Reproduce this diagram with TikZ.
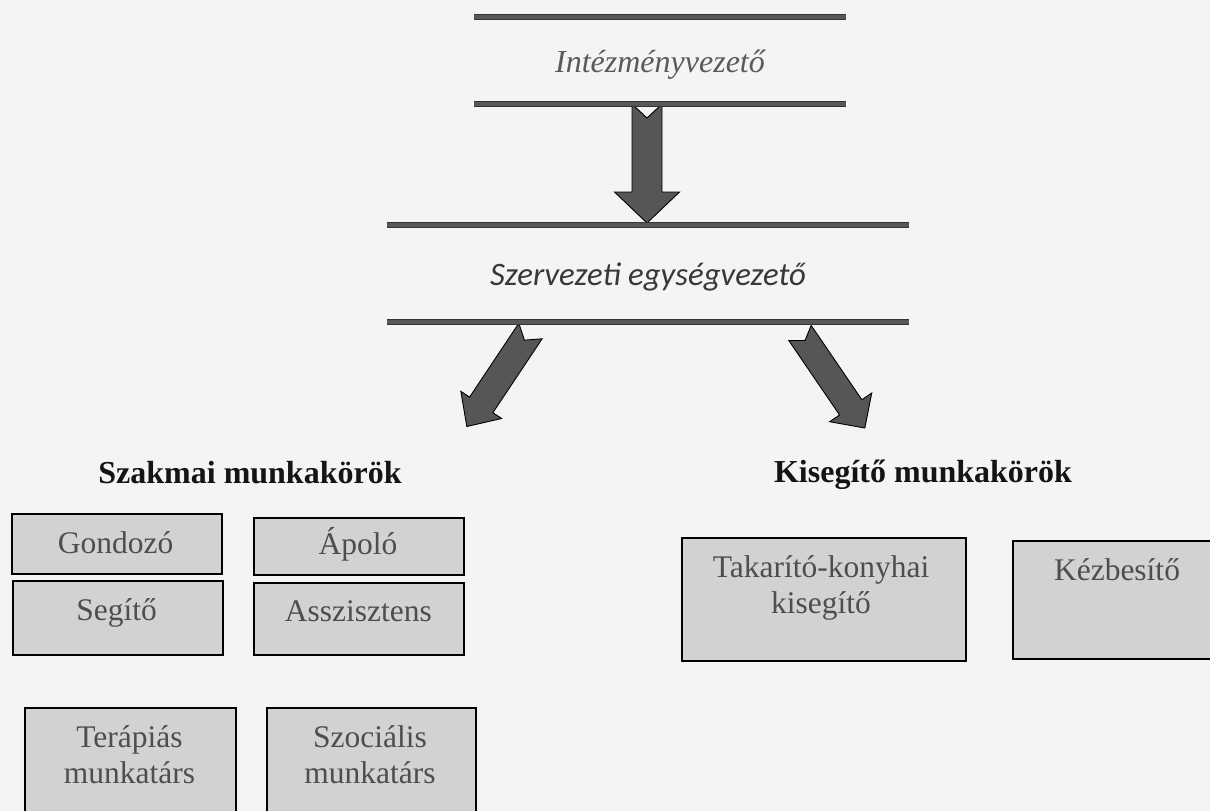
\documentclass[tikz,border=0pt]{standalone}
\usepackage{fontspec}
\setmainfont{Liberation Serif}
\newfontfamily\calib{Carlito}
\usetikzlibrary{calc}

\definecolor{bgcol}{HTML}{F4F4F4}
\definecolor{barEdge}{HTML}{353535}
\definecolor{barMid}{HTML}{585858}
\definecolor{boxFill}{HTML}{D2D2D2}
\definecolor{boxText}{HTML}{4E4E4E}
\definecolor{arrFill}{HTML}{565656}
\definecolor{leadText}{HTML}{5A5A5A}
\definecolor{unitText}{HTML}{383838}

\tikzset{
  barline/.style={draw=barEdge, line width=1.3pt, double=barMid, double distance=4pt},
  jobbox/.style={draw=black, line width=1.8pt, fill=boxFill, rectangle, inner sep=0pt, anchor=north west},
  boxtxt/.style={font=\fontsize{31.5}{36}\selectfont, text=boxText, anchor=base, inner sep=0pt, align=center},
  heading/.style={font=\fontsize{32}{38}\selectfont\bfseries, text=black!92, anchor=base, inner sep=0pt},
  blockarrow/.style={fill=arrFill, draw=black, line width=0.9pt, line join=miter},
}

% notched block arrow from #1 (tail) to #2 (tip)
% #3 half shaft width, #4 half head width, #5 head length, #6 notch depth
\newcommand\notchedarrow[6]{%
  \path let \p1=(#1), \p2=(#2),
    \n1={atan2(\y2-\y1,\x2-\x1)}, \n2={veclen(\x2-\x1,\y2-\y1)} in
    \pgfextra{\xdef\NAang{\n1}\xdef\NAlen{\n2}\xdef\NAx{\x1}\xdef\NAy{\y1}};
  \pgfmathsetmacro\NAneck{\NAlen-#5}
  \fill[blockarrow, shift={(\NAx,\NAy)}, rotate=\NAang]
    (0pt,#3pt) -- (\NAneck*1pt,#3pt) -- (\NAneck*1pt,#4pt) -- (\NAlen*1pt,0pt)
    -- (\NAneck*1pt,-#4pt) -- (\NAneck*1pt,-#3pt) -- (0pt,-#3pt) -- (#6pt,0pt) -- cycle;
}

\begin{document}
\begin{tikzpicture}[x=1pt,y=-1pt]
\useasboundingbox (0,0) rectangle (1210,811);
\fill[bgcol] (0,0) rectangle (1210,811);

% bar end points
\coordinate (L1a) at (474,17);  \coordinate (L1b) at (846,17);
\coordinate (L2a) at (474,104); \coordinate (L2b) at (846,104);
\coordinate (L3a) at (387,225); \coordinate (L3b) at (909,225);
\coordinate (L4a) at (387,322); \coordinate (L4b) at (909,322);

% arrow end points
\coordinate (dA1) at (647,104);   \coordinate (dA2) at (647,223);
\coordinate (lA1) at (530.5,331); \coordinate (lA2) at (466.7,426.7);
\coordinate (rA1) at (800,333);   \coordinate (rA2) at (865,428.3);

% arrows (under the bars)
\notchedarrow{dA1}{dA2}{15}{32.5}{31}{14}
\notchedarrow{lA1}{lA2}{14}{24.5}{26}{11}
\notchedarrow{rA1}{rA2}{13.5}{25.5}{25}{9}

% bars
\draw[barline] (L1a) -- (L1b);
\draw[barline] (L2a) -- (L2b);
\draw[barline] (L3a) -- (L3b);
\draw[barline] (L4a) -- (L4b);

% leader titles
\node[anchor=base, inner sep=0pt, text=leadText, font=\fontsize{32}{38}\selectfont\itshape] (inst) at (660,72) {Intézményvezető};
\node[anchor=base, inner sep=0pt, text=unitText, font=\fontsize{32.8}{38}\selectfont\calib\itshape] (unit) at (648,285) {Szervezeti egységvezető};

% headings
\node[heading] (szak) at (250,483) {Szakmai munkakörök};
\node[heading] (kis) at (923,482) {Kisegítő munkakörök};

% boxes
\node[jobbox, minimum width=210pt, minimum height=59.4pt] (gond) at (10.7,513.3) {};
\node[jobbox, minimum width=210pt, minimum height=74.3pt] (seg) at (11.7,580) {};
\node[jobbox, minimum width=209.4pt, minimum height=57.3pt] (apol) at (253.3,516.7) {};
\node[jobbox, minimum width=210pt, minimum height=72.3pt] (assz) at (253.3,581.7) {};
\node[jobbox, minimum width=211pt, minimum height=130pt] (ter) at (24,706.7) {};
\node[jobbox, minimum width=209.3pt, minimum height=130pt] (szoc) at (265.7,706.7) {};
\node[jobbox, minimum width=284pt, minimum height=123pt] (tak) at (681,537) {};
\node[jobbox, minimum width=215pt, minimum height=118pt] (kez) at (1012,540) {};

% box texts (base = baseline of last line)
\node[boxtxt] (gondT) at (115.7,553) {Gondozó};
\node[boxtxt] (segT) at (116.7,620) {Segítő};
\node[boxtxt] (apolT) at (358,554) {Ápoló};
\node[boxtxt] (asszT) at (358.3,621) {Asszisztens};
\node[boxtxt] (terT) at (129.5,783) {Terápiás\\munkatárs};
\node[boxtxt] (szocT) at (370,783) {Szociális\\munkatárs};
\node[boxtxt] (takT) at (821,613) {Takarító-konyhai\\kisegítő};
\node[boxtxt] (kezT) at (1117,580) {Kézbesítő};
\end{tikzpicture}
\end{document}
